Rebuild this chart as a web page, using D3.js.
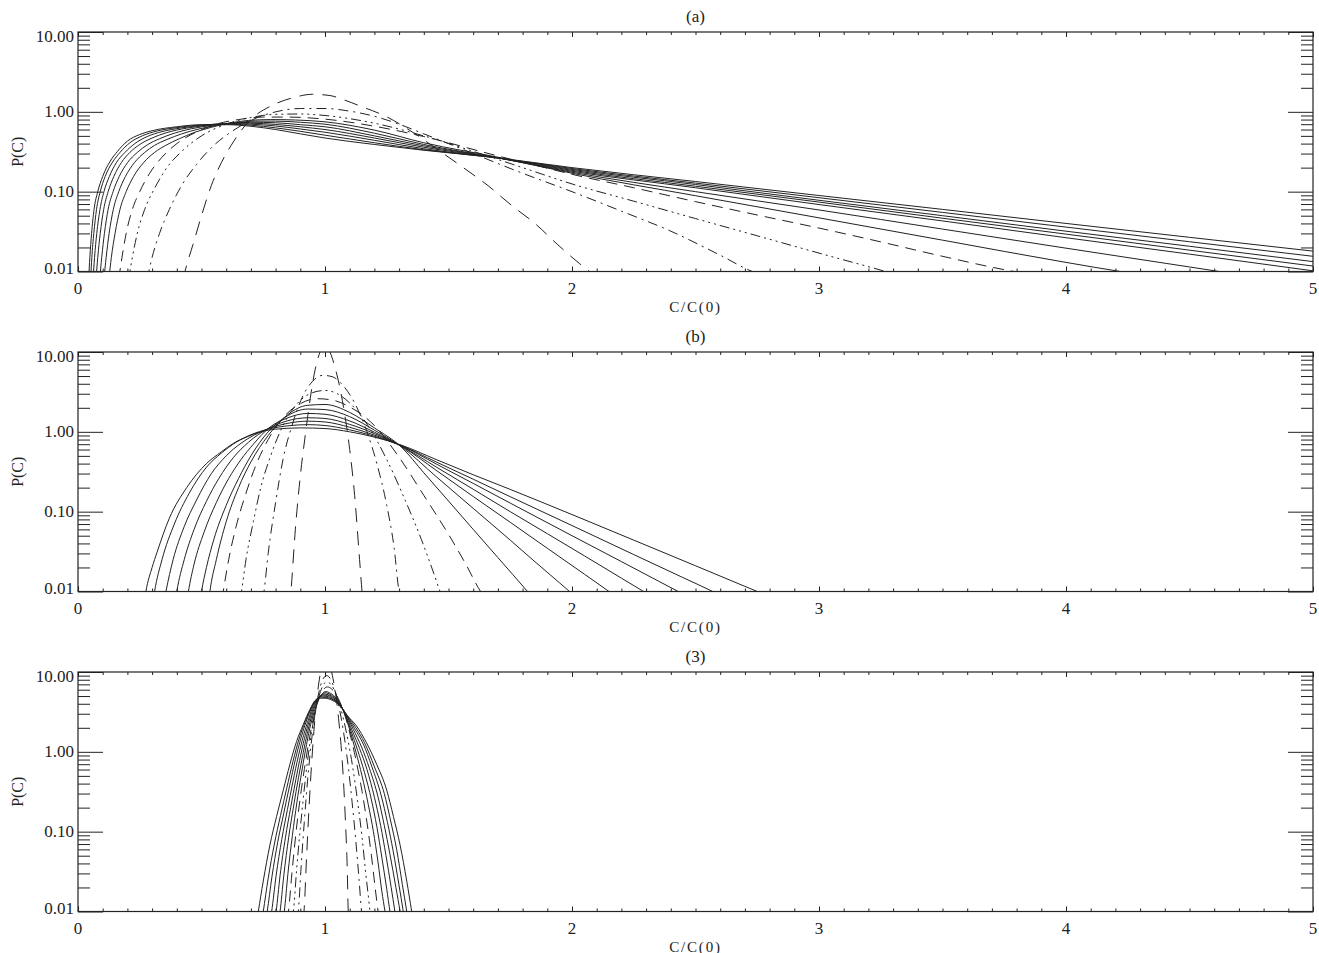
<!DOCTYPE html>
<html>
<head>
<meta charset="utf-8">
<script src="https://cdn.jsdelivr.net/npm/d3@7"></script>
<style>
	body { margin: 0; background: #fff; }
	svg text { fill: #222; font-family: "Liberation Serif", "DejaVu Serif", serif; }
</style>
</head>
<body>
<svg id="chart" width="1319" height="953"></svg>
<script>
// panel titles, tick labels
const panelTitles = ['(a)', '(b)', '(3)'];
const xAxisTitle = 'C/C(0)';
const yAxisTitle = 'P(C)';
const xMajorTicks = [0, 1, 2, 3, 4, 5];
const xTickLabels = ['0', '1', '2', '3', '4', '5'];
const yMajorTicks = [0.01, 0.1, 1, 10];
const yTickLabels = ['0.01', '0.10', '1.00', '10.00'];

// line style of curve 1..11 (same in every panel)
const curveStyles = ['longdash', 'dashdot', 'dashdotdot', 'dash', 'solid', 'solid', 'solid', 'solid', 'solid', 'solid', 'solid'];

// panel (a): [C/C(0), P(C)]
const a1 = [[0.425,0.008],[0.44,0.012],[0.466,0.022],[0.5,0.05],[0.54,0.12],[0.58,0.23],[0.62,0.38],[0.69,0.75],[0.79,1.22],[0.87,1.5],[0.95,1.66],[1.02,1.6],[1.08,1.4],[1.14,1.19],[1.255,0.85],[1.357,0.55],[1.46,0.33],[1.56,0.2],[1.66,0.119],[1.756,0.067],[1.85,0.04],[1.94,0.022],[2.03,0.0126],[2.08,0.0095]];
const a2 = [[0.28,0.008],[0.3,0.015],[0.33,0.03],[0.37,0.06],[0.42,0.12],[0.48,0.22],[0.55,0.38],[0.62,0.56],[0.7,0.78],[0.8,1.0],[0.9,1.1],[1.0,1.1],[1.1,1.02],[1.2,0.88],[1.3,0.7],[1.4,0.53],[1.5,0.4],[1.6,0.3],[1.8,0.17],[2.0,0.1],[2.2,0.057],[2.4,0.032],[2.6,0.016],[2.73,0.01],[2.8,0.0085]];
const a3 = [[0.205,0.008],[0.22,0.015],[0.24,0.03],[0.27,0.06],[0.31,0.11],[0.36,0.2],[0.42,0.32],[0.5,0.5],[0.6,0.7],[0.7,0.85],[0.8,0.93],[0.9,0.94],[1.0,0.9],[1.2,0.72],[1.4,0.5],[1.6,0.32],[1.8,0.2],[2.0,0.125],[2.25,0.076],[2.5,0.046],[2.75,0.028],[3.0,0.017],[3.27,0.01],[3.35,0.0085]];
const a4 = [[0.165,0.008],[0.178,0.015],[0.195,0.03],[0.22,0.06],[0.25,0.1],[0.29,0.17],[0.34,0.27],[0.4,0.4],[0.48,0.56],[0.56,0.7],[0.65,0.8],[0.75,0.86],[0.85,0.86],[1.0,0.81],[1.2,0.66],[1.4,0.49],[1.7,0.28],[1.85,0.215],[2.0,0.165],[2.25,0.112],[2.5,0.075],[2.75,0.051],[3.0,0.035],[3.25,0.0235],[3.5,0.0155],[3.79,0.01],[3.9,0.0088]];
const a5 = [[0.125,0.008],[0.135,0.015],[0.15,0.03],[0.17,0.06],[0.195,0.1],[0.225,0.155],[0.265,0.23],[0.31,0.31],[0.355,0.38],[0.41,0.46],[0.47,0.55],[0.54,0.64],[0.61,0.72],[0.69,0.78],[0.78,0.8],[0.88,0.79],[1.0,0.75],[1.2,0.59],[1.4,0.41],[1.7,0.27],[2.0,0.17],[2.5,0.089],[3.0,0.047],[3.5,0.0247],[4.0,0.013],[4.22,0.01],[4.4,0.0083]];
const a6 = [[0.105,0.008],[0.114,0.015],[0.126,0.03],[0.143,0.06],[0.165,0.1],[0.192,0.155],[0.228,0.23],[0.27,0.31],[0.31,0.38],[0.36,0.45],[0.42,0.53],[0.49,0.61],[0.56,0.675],[0.64,0.73],[0.72,0.765],[0.8,0.765],[0.9,0.74],[1.0,0.7],[1.2,0.54],[1.4,0.39],[1.7,0.265],[2.0,0.175],[2.5,0.1],[3.0,0.059],[3.5,0.034],[4.0,0.0196],[4.5,0.0114],[4.62,0.01],[4.8,0.0083]];
const a7 = [[0.088,0.008],[0.096,0.015],[0.107,0.03],[0.122,0.06],[0.142,0.1],[0.167,0.155],[0.2,0.23],[0.24,0.31],[0.28,0.385],[0.33,0.46],[0.39,0.54],[0.46,0.615],[0.54,0.675],[0.62,0.72],[0.7,0.74],[0.8,0.73],[0.9,0.69],[1.0,0.65],[1.2,0.5],[1.4,0.375],[1.7,0.265],[2.0,0.18],[2.5,0.112],[3.0,0.069],[3.5,0.043],[4.0,0.0265],[4.5,0.0165],[5.0,0.0102]];
const a8 = [[0.073,0.008],[0.08,0.015],[0.09,0.03],[0.104,0.06],[0.122,0.1],[0.145,0.155],[0.175,0.23],[0.21,0.31],[0.25,0.39],[0.3,0.47],[0.36,0.55],[0.44,0.625],[0.52,0.675],[0.6,0.715],[0.7,0.72],[0.8,0.695],[0.9,0.65],[1.0,0.6],[1.2,0.47],[1.4,0.36],[1.7,0.265],[2.0,0.185],[2.5,0.117],[3.0,0.074],[3.5,0.0465],[4.0,0.0294],[4.5,0.0185],[5.0,0.0117]];
const a9 = [[0.061,0.008],[0.067,0.015],[0.076,0.03],[0.089,0.06],[0.105,0.1],[0.127,0.155],[0.155,0.23],[0.19,0.31],[0.23,0.4],[0.28,0.49],[0.34,0.565],[0.42,0.63],[0.5,0.675],[0.6,0.71],[0.7,0.7],[0.8,0.665],[0.9,0.61],[1.0,0.555],[1.2,0.44],[1.4,0.345],[1.7,0.265],[2.0,0.19],[2.5,0.123],[3.0,0.078],[3.5,0.05],[4.0,0.032],[4.5,0.0207],[5.0,0.0133]];
const a10 = [[0.051,0.008],[0.056,0.015],[0.064,0.03],[0.075,0.06],[0.09,0.1],[0.11,0.155],[0.14,0.235],[0.17,0.31],[0.21,0.41],[0.26,0.5],[0.32,0.575],[0.4,0.635],[0.5,0.685],[0.6,0.7],[0.7,0.68],[0.8,0.63],[0.9,0.57],[1.0,0.51],[1.2,0.41],[1.4,0.335],[1.7,0.265],[2.0,0.195],[2.5,0.128],[3.0,0.084],[3.5,0.055],[4.0,0.036],[4.5,0.0236],[5.0,0.0155]];
const a11 = [[0.043,0.008],[0.048,0.015],[0.055,0.03],[0.065,0.06],[0.08,0.1],[0.1,0.155],[0.13,0.24],[0.16,0.32],[0.2,0.43],[0.25,0.52],[0.3,0.58],[0.4,0.65],[0.5,0.69],[0.6,0.69],[0.7,0.66],[0.8,0.6],[0.9,0.53],[1.0,0.47],[1.2,0.39],[1.4,0.33],[1.7,0.265],[2.0,0.2],[2.5,0.134],[3.0,0.0895],[3.5,0.06],[4.0,0.04],[4.5,0.0268],[5.0,0.018]];

// panel (b)
const b1 = [[0.855,0.006],[0.862,0.01],[0.88,0.06],[0.9,0.28],[0.92,0.9],[0.94,2.6],[0.96,6.0],[0.98,10],[1.0,12.5],[1.02,10],[1.04,6.5],[1.06,3.6],[1.08,1.65],[1.1,0.6],[1.12,0.16],[1.14,0.025],[1.15,0.01],[1.155,0.007]];
const b2 = [[0.748,0.008],[0.753,0.01],[0.77,0.03],[0.8,0.13],[0.83,0.45],[0.87,1.3],[0.91,2.8],[0.95,4.3],[0.99,5.1],[1.03,4.9],[1.07,3.9],[1.12,2.3],[1.17,1.0],[1.21,0.4],[1.25,0.12],[1.28,0.035],[1.3,0.01],[1.31,0.008]];
const b3 = [[0.657,0.008],[0.662,0.01],[0.68,0.025],[0.71,0.075],[0.74,0.2],[0.78,0.5],[0.83,1.2],[0.89,2.3],[0.95,3.1],[1.0,3.3],[1.05,3.0],[1.1,2.3],[1.17,1.25],[1.25,0.45],[1.32,0.15],[1.39,0.045],[1.44,0.017],[1.466,0.01],[1.48,0.008]];
const b4 = [[0.583,0.008],[0.588,0.01],[0.61,0.025],[0.64,0.065],[0.68,0.17],[0.72,0.38],[0.77,0.8],[0.83,1.5],[0.9,2.25],[0.97,2.6],[1.03,2.5],[1.1,2.05],[1.2,1.2],[1.3,0.48],[1.4,0.16],[1.5,0.052],[1.57,0.022],[1.63,0.01],[1.66,0.0075]];
const b5 = [[0.53,0.008],[0.534,0.01],[0.56,0.025],[0.6,0.075],[0.65,0.2],[0.7,0.42],[0.77,0.9],[0.85,1.65],[0.93,2.15],[1.0,2.2],[1.1,1.75],[1.2,1.12],[1.31,0.64],[1.4,0.307],[1.5,0.136],[1.6,0.06],[1.7,0.0266],[1.82,0.01],[1.85,0.0078]];
const b6 = [[0.495,0.008],[0.5,0.01],[0.52,0.02],[0.55,0.045],[0.6,0.12],[0.65,0.26],[0.7,0.5],[0.77,1.0],[0.85,1.6],[0.93,1.93],[1.0,1.9],[1.1,1.55],[1.2,1.05],[1.31,0.65],[1.45,0.275],[1.6,0.11],[1.75,0.044],[1.85,0.0236],[1.95,0.0128],[1.99,0.01],[2.02,0.0083]];
const b7 = [[0.442,0.008],[0.447,0.01],[0.47,0.022],[0.51,0.055],[0.56,0.13],[0.61,0.26],[0.66,0.45],[0.71,0.7],[0.77,1.1],[0.85,1.5],[0.93,1.7],[1.0,1.66],[1.1,1.37],[1.2,0.99],[1.31,0.66],[1.45,0.33],[1.6,0.155],[1.75,0.0736],[1.9,0.0348],[2.05,0.0165],[2.15,0.01],[2.2,0.0078]];
const b8 = [[0.395,0.008],[0.4,0.01],[0.43,0.025],[0.47,0.06],[0.52,0.135],[0.57,0.26],[0.63,0.48],[0.69,0.74],[0.77,1.1],[0.85,1.38],[0.93,1.5],[1.0,1.47],[1.1,1.24],[1.2,0.95],[1.31,0.66],[1.45,0.363],[1.6,0.191],[1.75,0.1],[1.9,0.053],[2.05,0.028],[2.2,0.0147],[2.29,0.01],[2.33,0.0084]];
const b9 = [[0.35,0.008],[0.356,0.01],[0.385,0.025],[0.43,0.065],[0.48,0.14],[0.54,0.3],[0.6,0.5],[0.66,0.72],[0.71,0.9],[0.77,1.09],[0.85,1.28],[0.93,1.36],[1.0,1.33],[1.1,1.14],[1.2,0.91],[1.31,0.67],[1.45,0.396],[1.6,0.226],[1.75,0.128],[2.0,0.05],[2.2,0.0237],[2.35,0.0135],[2.43,0.01],[2.48,0.0083]];
const b10 = [[0.305,0.008],[0.31,0.01],[0.34,0.025],[0.39,0.07],[0.45,0.17],[0.52,0.36],[0.58,0.54],[0.64,0.74],[0.7,0.92],[0.77,1.08],[0.85,1.19],[0.93,1.23],[1.0,1.2],[1.1,1.06],[1.2,0.88],[1.31,0.67],[1.45,0.42],[1.6,0.255],[1.75,0.154],[2.0,0.067],[2.25,0.029],[2.45,0.0149],[2.57,0.01],[2.62,0.0084]];
const b11 = [[0.27,0.008],[0.275,0.01],[0.3,0.02],[0.32,0.031],[0.37,0.083],[0.44,0.2],[0.52,0.4],[0.58,0.56],[0.63,0.72],[0.69,0.88],[0.74,1.0],[0.8,1.08],[0.9,1.12],[1.0,1.1],[1.1,1.0],[1.2,0.86],[1.31,0.68],[1.45,0.45],[1.6,0.29],[1.75,0.19],[2.0,0.092],[2.25,0.044],[2.5,0.021],[2.75,0.01],[2.8,0.0086]];

// panel (3)
const c1 = [[0.912,0.008],[0.915,0.01],[0.925,0.045],[0.935,0.19],[0.945,0.65],[0.955,1.8],[0.965,4.0],[0.975,7.3],[0.985,11],[0.995,14],[1.005,15],[1.015,13],[1.025,10.5],[1.035,7.5],[1.045,4.8],[1.055,2.6],[1.065,1.2],[1.075,0.42],[1.083,0.13],[1.09,0.035],[1.094,0.01],[1.097,0.007]];
const c2 = [[0.888,0.008],[0.892,0.01],[0.903,0.035],[0.916,0.13],[0.929,0.42],[0.942,1.1],[0.955,2.4],[0.968,4.3],[0.981,6.6],[0.994,8.4],[1.007,9.0],[1.02,8.4],[1.035,6.6],[1.05,4.5],[1.065,2.7],[1.08,1.4],[1.095,0.62],[1.11,0.23],[1.125,0.075],[1.138,0.025],[1.148,0.01],[1.152,0.008]];
const c3 = [[0.867,0.008],[0.872,0.01],[0.885,0.033],[0.9,0.11],[0.915,0.32],[0.93,0.8],[0.945,1.7],[0.96,3.1],[0.975,4.9],[0.99,6.6],[1.005,7.5],[1.02,7.2],[1.037,6.0],[1.055,4.3],[1.073,2.7],[1.092,1.45],[1.112,0.65],[1.132,0.24],[1.15,0.085],[1.165,0.03],[1.176,0.015],[1.182,0.01],[1.186,0.008]];
const c4 = [[0.847,0.008],[0.852,0.01],[0.866,0.03],[0.883,0.1],[0.9,0.27],[0.917,0.62],[0.933,1.25],[0.949,2.3],[0.965,3.7],[0.98,5.0],[0.995,6.1],[1.01,6.5],[1.025,6.2],[1.045,5.2],[1.065,3.9],[1.085,2.6],[1.105,1.5],[1.127,0.75],[1.15,0.32],[1.17,0.13],[1.188,0.05],[1.203,0.02],[1.215,0.01],[1.22,0.008]];
const c5 = [[0.83,0.008],[0.835,0.01],[0.85,0.03],[0.868,0.09],[0.886,0.23],[0.904,0.52],[0.921,1.05],[0.938,1.95],[0.955,3.1],[0.971,4.3],[0.986,5.2],[1.002,5.7],[1.018,5.5],[1.04,4.9],[1.06,4.05],[1.08,2.95],[1.102,1.8],[1.125,1.0],[1.15,0.5],[1.175,0.22],[1.196,0.1],[1.214,0.043],[1.23,0.018],[1.243,0.01],[1.248,0.008]];
const c6 = [[0.813,0.008],[0.818,0.01],[0.833,0.028],[0.853,0.085],[0.873,0.21],[0.893,0.48],[0.912,0.98],[0.93,1.8],[0.948,2.9],[0.965,4.1],[0.982,5.0],[0.999,5.5],[1.016,5.35],[1.038,4.8],[1.06,4.0],[1.082,2.9],[1.106,1.8],[1.132,1.05],[1.16,0.55],[1.188,0.25],[1.21,0.115],[1.23,0.048],[1.25,0.019],[1.263,0.01],[1.268,0.008]];
const c7 = [[0.797,0.008],[0.802,0.01],[0.818,0.028],[0.84,0.085],[0.861,0.2],[0.882,0.45],[0.902,0.92],[0.922,1.7],[0.941,2.75],[0.959,3.95],[0.977,4.9],[0.995,5.3],[1.013,5.2],[1.037,4.7],[1.06,3.95],[1.083,2.9],[1.11,1.85],[1.14,1.1],[1.17,0.6],[1.2,0.27],[1.225,0.12],[1.247,0.05],[1.268,0.02],[1.283,0.01],[1.288,0.008]];
const c8 = [[0.779,0.008],[0.784,0.01],[0.802,0.028],[0.825,0.08],[0.848,0.19],[0.87,0.42],[0.892,0.88],[0.913,1.6],[0.934,2.6],[0.953,3.8],[0.972,4.75],[0.991,5.15],[1.01,5.1],[1.035,4.6],[1.06,3.9],[1.085,2.9],[1.115,1.9],[1.148,1.15],[1.18,0.62],[1.215,0.27],[1.24,0.12],[1.263,0.052],[1.287,0.02],[1.304,0.01],[1.309,0.008]];
const c9 = [[0.761,0.008],[0.766,0.01],[0.785,0.027],[0.809,0.075],[0.833,0.17],[0.857,0.38],[0.88,0.8],[0.903,1.5],[0.926,2.5],[0.948,3.7],[0.968,4.6],[0.988,5.0],[1.008,4.95],[1.035,4.5],[1.06,3.9],[1.088,2.85],[1.12,1.95],[1.155,1.25],[1.19,0.65],[1.228,0.28],[1.253,0.13],[1.276,0.057],[1.3,0.021],[1.317,0.01],[1.322,0.008]];
const c10 = [[0.745,0.008],[0.75,0.01],[0.77,0.026],[0.795,0.07],[0.82,0.16],[0.845,0.35],[0.87,0.75],[0.895,1.45],[0.92,2.4],[0.945,3.6],[0.965,4.5],[0.985,4.85],[1.005,4.8],[1.035,4.45],[1.06,3.85],[1.09,2.85],[1.125,2.0],[1.16,1.3],[1.2,0.65],[1.24,0.3],[1.265,0.14],[1.29,0.06],[1.313,0.022],[1.331,0.01],[1.336,0.008]];
const c11 = [[0.725,0.008],[0.73,0.01],[0.75,0.024],[0.777,0.068],[0.804,0.155],[0.831,0.33],[0.858,0.7],[0.885,1.35],[0.912,2.2],[0.939,3.4],[0.96,4.4],[0.98,4.7],[1.0,4.7],[1.03,4.4],[1.06,3.8],[1.088,2.9],[1.128,2.1],[1.168,1.3],[1.209,0.7],[1.25,0.33],[1.277,0.155],[1.304,0.068],[1.331,0.024],[1.351,0.01],[1.356,0.008]];

const panelCurves = [
	[a1, a2, a3, a4, a5, a6, a7, a8, a9, a10, a11],
	[b1, b2, b3, b4, b5, b6, b7, b8, b9, b10, b11],
	[c1, c2, c3, c4, c5, c6, c7, c8, c9, c10, c11]
];

const ChartPane = {
	plotLeft: 78,
	plotRight: 1313,
	panelTops: [32, 352, 672],
	panelHeight: 239.5,
	ink: '#222',
	dashArrays: {
		solid: null,
		longdash: '14,9',
		dash: '11,7',
		dashdot: '10,5,2,5',
		dashdotdot: '10,4,2,4,2,4,2,4'
	},

	update: function() {
		const self = this;
		let svg = d3.select('#chart');

		for (let i = 0; i < panelCurves.length; i++) {
			let panel = svg.append('g').attr('class', 'panel');
			let [ xScale, yScale ] = self.initScales(i);

			self.drawCurves(panel, i, xScale, yScale);
			self.drawAxes(panel, i, xScale, yScale);
			self.drawLabels(panel, i, xScale, yScale);
		}
	},

	initScales: function(panelIndex) {
		const self = this;
		let top = self.panelTops[panelIndex];
		let xScale = d3.scaleLinear()
			.domain([ 0, 5 ])
			.range([ self.plotLeft, self.plotRight ]);
		let yScale = d3.scaleLog()
			.domain([ 0.01, 10 ])
			.range([ top + self.panelHeight, top ]);

		return [ xScale, yScale ];
	},
	drawCurves: function(panel, panelIndex, xScale, yScale) {
		const self = this;
		let top = self.panelTops[panelIndex];
		let clipId = 'clip-' + panelIndex;
		let line = d3.line()
			.x(d => xScale(d[0]))
			.y(d => yScale(d[1]))
			.curve(d3.curveMonotoneX);

		panel.append('clipPath')
			.attr('id', clipId)
			.append('rect')
			.attr('x', self.plotLeft)
			.attr('y', top)
			.attr('width', self.plotRight - self.plotLeft)
			.attr('height', self.panelHeight);

		panel.append('g')
			.attr('clip-path', 'url(#' + clipId + ')')
			.selectAll('path')
			.data(panelCurves[panelIndex])
			.join('path')
			.attr('d', line)
			.attr('fill', 'none')
			.attr('stroke', self.ink)
			.attr('stroke-width', 1)
			.attr('stroke-dasharray', (d, j) => self.dashArrays[curveStyles[j]]);
	},
	drawAxes: function(panel, panelIndex, xScale, yScale) {
		const self = this;
		let top = self.panelTops[panelIndex];
		let bottom = top + self.panelHeight;
		let xMinorTicks = d3.range(0, 51).map(k => k / 10).filter(v => v % 1 != 0);
		let yMinorTicks = [];

		for (let decade of [ 0.01, 0.1, 1 ])
			for (let k = 2; k <= 9; k++)
				yMinorTicks.push(decade * k);

		let axisGroups = [
			[ d3.axisBottom(xScale).tickValues(xMajorTicks).tickSize(-5), 'translate(0,' + bottom + ')' ],
			[ d3.axisBottom(xScale).tickValues(xMinorTicks).tickSize(-3), 'translate(0,' + bottom + ')' ],
			[ d3.axisTop(xScale).tickValues(xMajorTicks).tickSize(-5), 'translate(0,' + top + ')' ],
			[ d3.axisTop(xScale).tickValues(xMinorTicks).tickSize(-3), 'translate(0,' + top + ')' ],
			[ d3.axisLeft(yScale).tickValues(yMajorTicks).tickSize(-25), 'translate(' + self.plotLeft + ',0)' ],
			[ d3.axisLeft(yScale).tickValues(yMinorTicks).tickSize(-12), 'translate(' + self.plotLeft + ',0)' ],
			[ d3.axisRight(yScale).tickValues(yMajorTicks).tickSize(-25), 'translate(' + self.plotRight + ',0)' ],
			[ d3.axisRight(yScale).tickValues(yMinorTicks).tickSize(-12), 'translate(' + self.plotRight + ',0)' ]
		];

		for (let [ axis, transform ] of axisGroups) {
			let g = panel.append('g')
				.attr('transform', transform)
				.call(axis.tickFormat(''));

			g.select('.domain').remove();
			g.selectAll('.tick line')
				.attr('stroke', self.ink)
				.attr('stroke-width', 1);
		}

		panel.append('rect')
			.attr('x', self.plotLeft)
			.attr('y', top)
			.attr('width', self.plotRight - self.plotLeft)
			.attr('height', self.panelHeight)
			.attr('fill', 'none')
			.attr('stroke', self.ink)
			.attr('stroke-width', 1.2);
	},
	drawLabels: function(panel, panelIndex, xScale, yScale) {
		const self = this;
		let top = self.panelTops[panelIndex];
		let bottom = top + self.panelHeight;
		let centerX = (self.plotLeft + self.plotRight) / 2;

		panel.append('text')
			.attr('x', centerX)
			.attr('y', top - 10)
			.attr('text-anchor', 'middle')
			.style('font-size', '17px')
			.text(panelTitles[panelIndex]);

		panel.selectAll('.x-label')
			.data(xMajorTicks)
			.join('text')
			.attr('class', 'x-label')
			.attr('x', d => xScale(d))
			.attr('y', bottom + 22)
			.attr('text-anchor', 'middle')
			.style('font-size', '17px')
			.text((d, i) => xTickLabels[i]);

		// first and last labels are pushed inside the axis range
		panel.selectAll('.y-label')
			.data(yMajorTicks)
			.join('text')
			.attr('class', 'y-label')
			.attr('x', self.plotLeft - 4)
			.attr('y', d => {
				let y = yScale(d) + 5.5;
				if (d == 10) y += 4.5;
				if (d == 0.01) y -= 3;
				return y;
			})
			.attr('text-anchor', 'end')
			.style('font-size', '17px')
			.text((d, i) => yTickLabels[i]);

		panel.append('text')
			.attr('x', centerX)
			.attr('y', bottom + 40)
			.attr('text-anchor', 'middle')
			.style('font-size', '15px')
			.style('letter-spacing', '1.8px')
			.text(xAxisTitle);

		panel.append('text')
			.attr('transform', 'translate(23,' + (top + self.panelHeight / 2) + ') rotate(-90)')
			.attr('text-anchor', 'middle')
			.style('font-size', '16px')
			.text(yAxisTitle);
	}
};

ChartPane.update();
</script>
</body>
</html>
